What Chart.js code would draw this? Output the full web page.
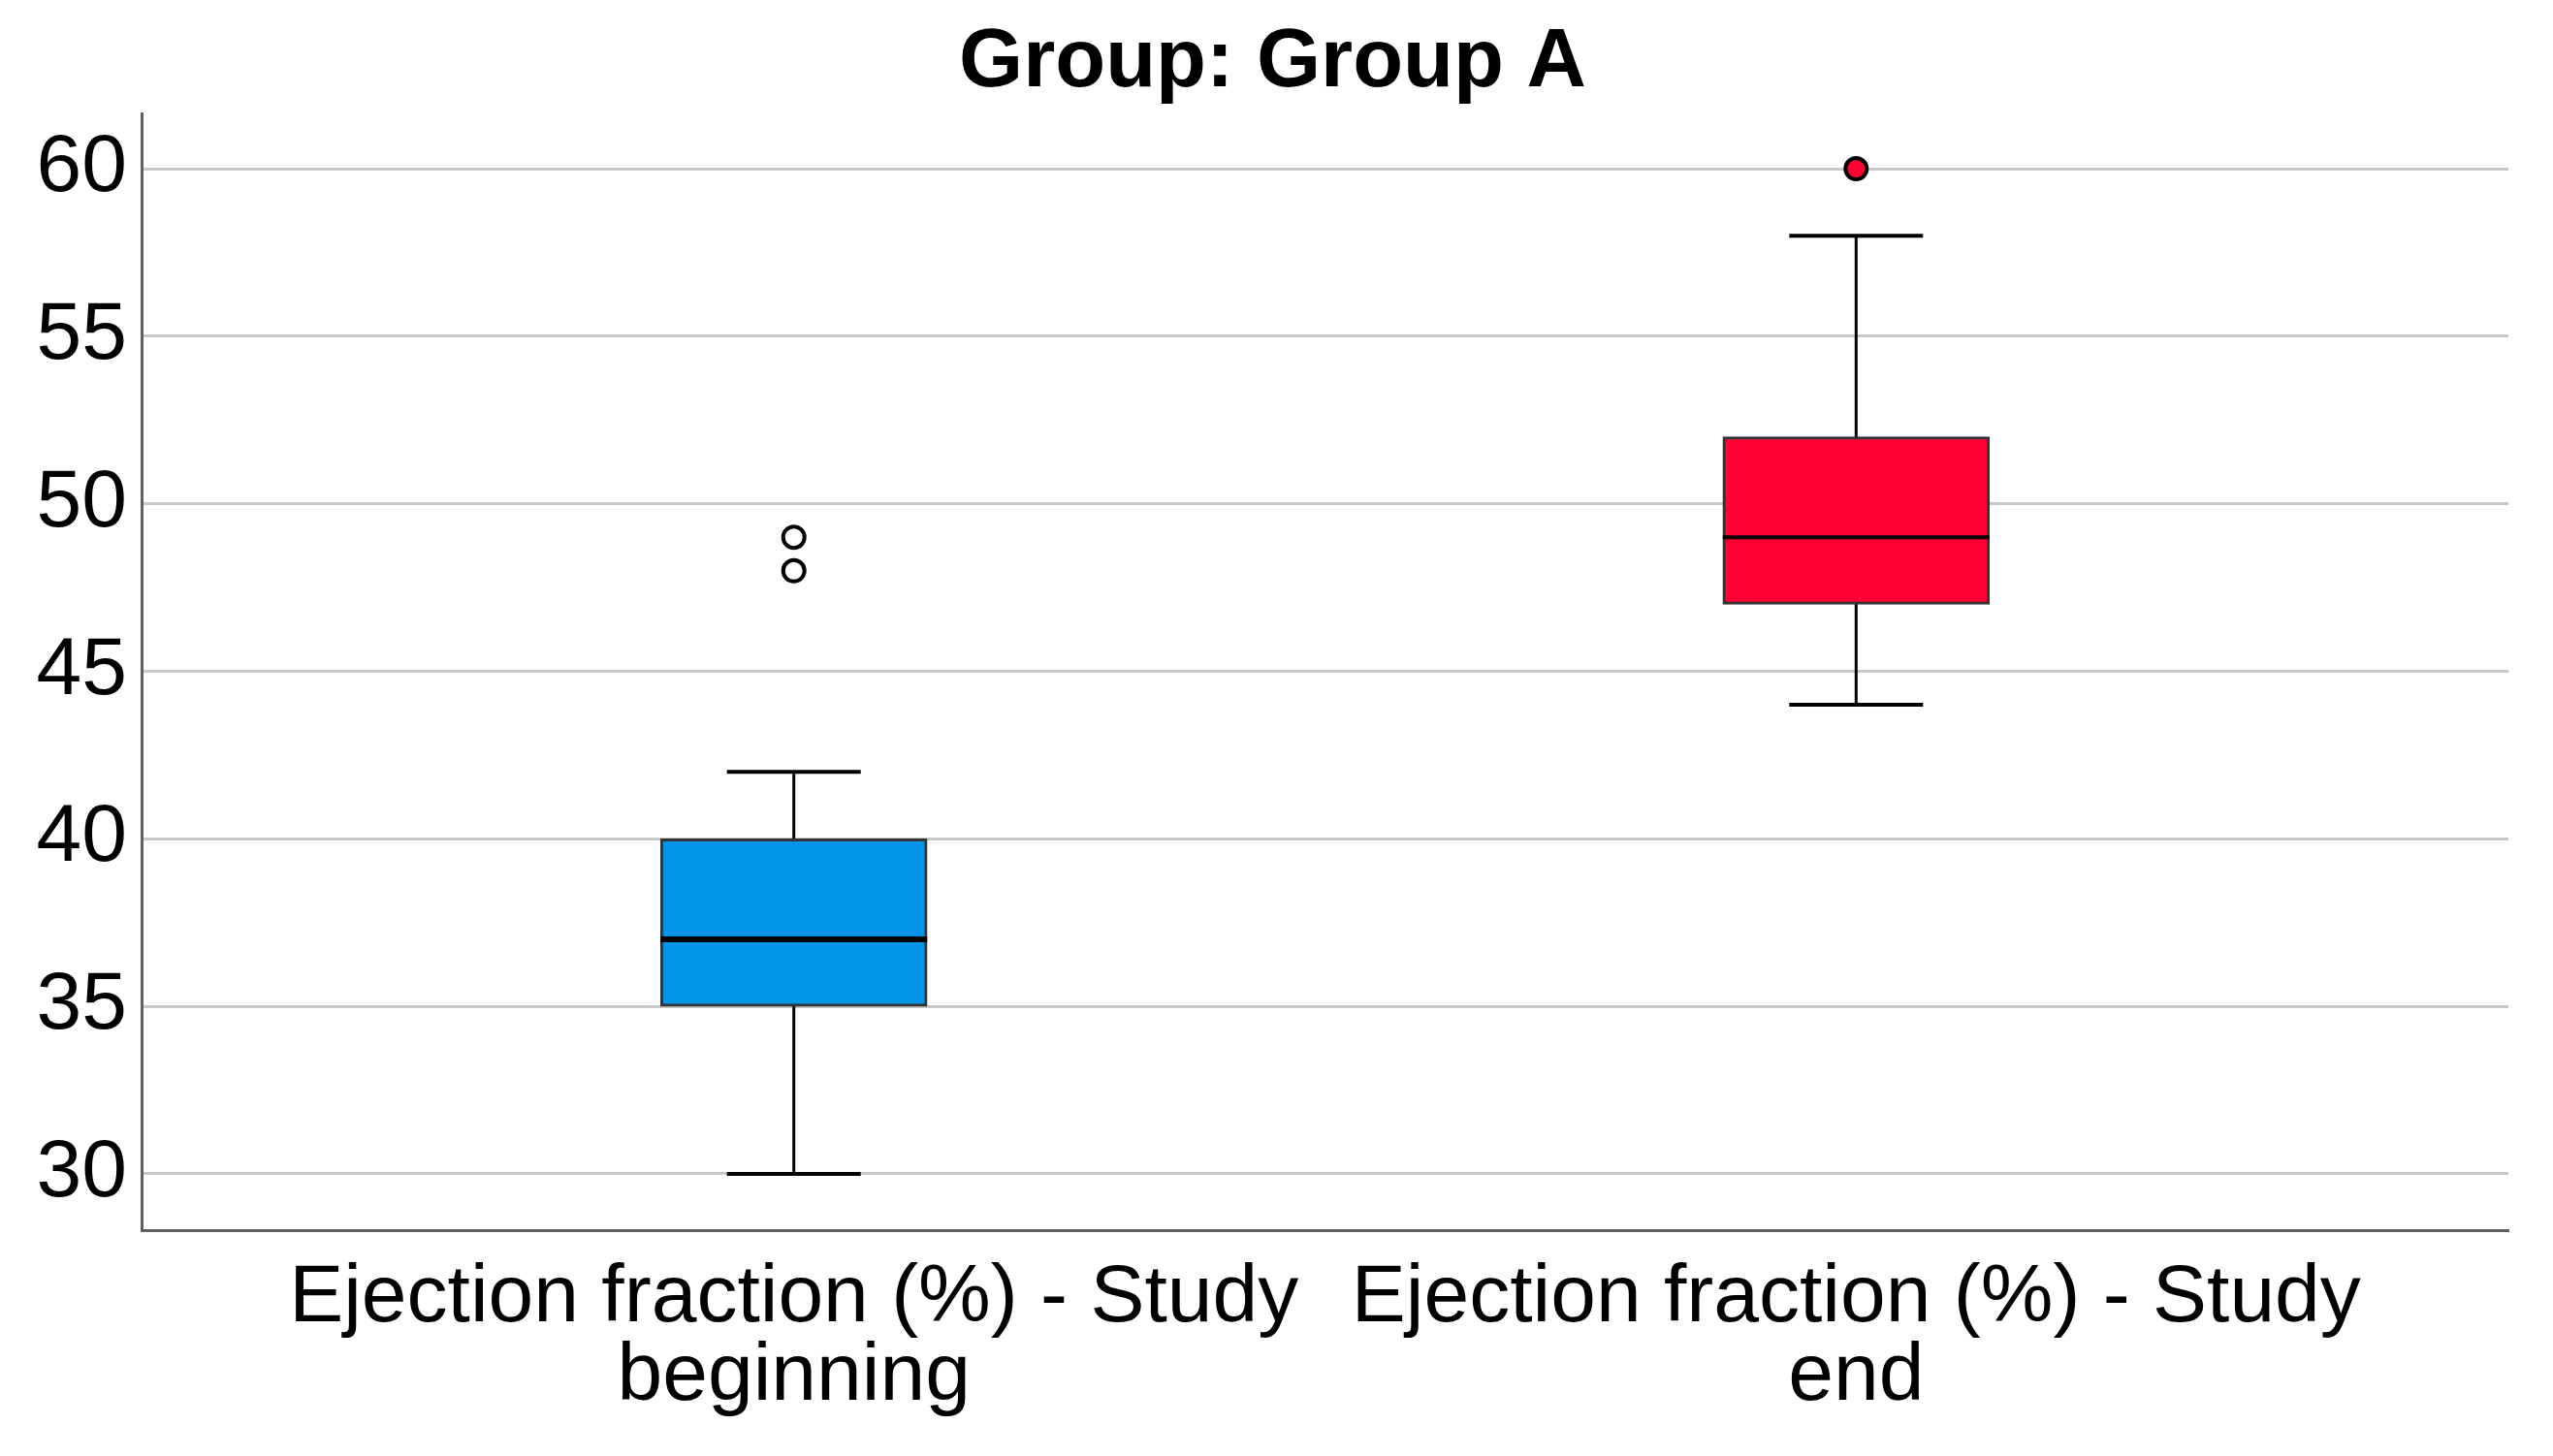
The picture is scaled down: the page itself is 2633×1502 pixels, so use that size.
<!DOCTYPE html>
<html>
<head>
<meta charset="utf-8">
<title>Group: Group A</title>
<script src="https://cdn.jsdelivr.net/npm/chart.js@4/dist/chart.umd.min.js"></script>
<style>
  html, body { margin: 0; padding: 0; background: #fff; }
  #wrap { width: 2633px; height: 1502px; }
</style>
</head>
<body>
<div id="wrap"><canvas id="box-chart"></canvas></div>
<script>
// Box plot data (ejection fraction, %)
const categories = [
    ["Ejection fraction (%) - Study", "beginning"],
    ["Ejection fraction (%) - Study", "end"]
];
const lowerWhisker = [30, 44];
const quartile1 = [35, 47];
const median = [37, 49];
const quartile3 = [40, 52];
const upperWhisker = [42, 58];
const outliers = [[48, 49], [60]];
const yTicks = [30, 35, 40, 45, 50, 55, 60];

const boxColors = ["#0095E6", "#FF0033"];
const outlierFill = ["#FFFFFF", "#FF0033"];
const medianWidths = [6, 4];

const BOX_WIDTH = 275;
const CAP_HALF = 69;
const FONT = "'Liberation Sans', Arial, sans-serif";

// Whiskers behind the boxes, medians on top
const whiskerPlugin = {
    id: "whiskers",
    beforeDatasetsDraw(chart) {
        const ctx = chart.ctx, x = chart.scales.x, y = chart.scales.y;
        ctx.save();
        ctx.strokeStyle = "#000";
        ctx.lineCap = "butt";
        categories.forEach((c, i) => {
            const cx = x.getPixelForValue(i + 1);
            ctx.lineWidth = 3;
            ctx.beginPath();
            ctx.moveTo(cx, y.getPixelForValue(lowerWhisker[i]));
            ctx.lineTo(cx, y.getPixelForValue(upperWhisker[i]));
            ctx.stroke();
            ctx.lineWidth = 4;
            [lowerWhisker[i], upperWhisker[i]].forEach(v => {
                const py = y.getPixelForValue(v);
                ctx.beginPath();
                ctx.moveTo(cx - CAP_HALF, py);
                ctx.lineTo(cx + CAP_HALF, py);
                ctx.stroke();
            });
        });
        ctx.restore();
    },
    afterDatasetDraw(chart, args) {
        if (args.index !== 0) return;
        const ctx = chart.ctx, x = chart.scales.x, y = chart.scales.y;
        ctx.save();
        ctx.strokeStyle = "#000";
        categories.forEach((c, i) => {
            const cx = x.getPixelForValue(i + 1);
            const py = y.getPixelForValue(median[i]);
            ctx.lineWidth = medianWidths[i];
            ctx.beginPath();
            ctx.moveTo(cx - BOX_WIDTH / 2, py);
            ctx.lineTo(cx + BOX_WIDTH / 2, py);
            ctx.stroke();
        });
        ctx.restore();
    }
};

const outlierSets = outliers.map((vals, i) => ({
    type: "scatter",
    data: vals.map(v => ({ x: i + 1, y: v })),
    pointRadius: 11,
    pointBorderWidth: 4,
    pointBackgroundColor: outlierFill[i],
    pointBorderColor: "#000",
    order: -1
}));

new Chart(document.getElementById("box-chart"), {
    type: "bar",
    data: {
        datasets: [{
            data: categories.map((c, i) => ({ x: i + 1, y: [quartile1[i], quartile3[i]] })),
            backgroundColor: boxColors,
            borderColor: "#333333",
            borderWidth: 3,
            borderSkipped: false,
            barThickness: BOX_WIDTH,
            grouped: false
        }, ...outlierSets]
    },
    options: {
        responsive: true,
        maintainAspectRatio: false,
        animation: false,
        devicePixelRatio: 1,
        layout: { padding: { left: 38, right: 46, top: 0, bottom: 0 } },
        plugins: {
            legend: { display: false },
            tooltip: { enabled: false },
            title: {
                display: true,
                text: "Group: Group A",
                color: "#000",
                font: { family: FONT, size: 85, weight: "bold", lineHeight: 1.2 },
                padding: { top: 15, bottom: 0 }
            }
        },
        scales: {
            x: {
                type: "linear",
                offset: false,
                min: 0.386,
                max: 2.614,
                afterBuildTicks: s => { s.ticks = categories.map((c, i) => ({ value: i + 1 })); },
                afterFit: s => { s.height = 233; },
                grid: { display: false, drawTicks: false, offset: false },
                border: { display: true, color: "#606060", width: 3 },
                ticks: {
                    color: "#000",
                    padding: 30,
                    maxRotation: 0,
                    autoSkip: false,
                    font: { family: FONT, size: 84, lineHeight: 0.97 },
                    callback: v => categories[v - 1]
                }
            },
            y: {
                min: 28.32,
                max: 61.65,
                afterBuildTicks: s => { s.ticks = yTicks.map(v => ({ value: v })); },
                afterFit: s => { s.width = 108; },
                grid: { color: "#C8C8C8", lineWidth: 3, drawTicks: false },
                border: { display: true, color: "#606060", width: 3 },
                ticks: {
                    color: "#000",
                    padding: 15,
                    font: { family: FONT, size: 84 }
                }
            }
        }
    },
    plugins: [whiskerPlugin]
});
</script>
</body>
</html>
